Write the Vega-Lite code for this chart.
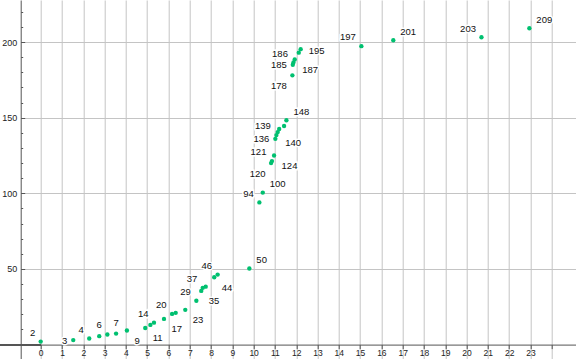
{
  "$schema": "https://vega.github.io/schema/vega-lite/v6.json",
  "width": 555.3,
  "height": 359,
  "autosize": {"type": "none"},
  "padding": {"left": 20.7, "top": 0, "right": 0, "bottom": 0},
  "background": "white",
  "config": {"view": {"stroke": null}, "font": "Liberation Sans"},
  "data": {"values": [
    {"x": 0.00, "y": 2, "label": "2"},
    {"x": 1.53, "y": 3, "label": "3"},
    {"x": 2.28, "y": 4, "label": "4"},
    {"x": 2.75, "y": 5.6, "label": "6"},
    {"x": 3.13, "y": 6.7},
    {"x": 3.54, "y": 7.3, "label": "7"},
    {"x": 4.05, "y": 9.3, "label": "9"},
    {"x": 4.91, "y": 11, "label": "11"},
    {"x": 5.15, "y": 13},
    {"x": 5.32, "y": 14.5, "label": "14"},
    {"x": 5.79, "y": 17, "label": "17"},
    {"x": 6.17, "y": 20.3, "label": "20"},
    {"x": 6.34, "y": 21},
    {"x": 6.79, "y": 23, "label": "23"},
    {"x": 7.31, "y": 29, "label": "29"},
    {"x": 7.54, "y": 35.5, "label": "35"},
    {"x": 7.61, "y": 37.5, "label": "37"},
    {"x": 7.75, "y": 38.3},
    {"x": 8.15, "y": 44.5, "label": "44"},
    {"x": 8.31, "y": 46.3, "label": "46"},
    {"x": 9.80, "y": 50.3, "label": "50"},
    {"x": 10.27, "y": 94, "label": "94"},
    {"x": 10.43, "y": 100.5, "label": "100"},
    {"x": 10.82, "y": 120, "label": "120"},
    {"x": 10.86, "y": 121.3, "label": "121"},
    {"x": 10.96, "y": 125, "label": "124"},
    {"x": 11.02, "y": 136, "label": "136"},
    {"x": 11.07, "y": 138.5, "label": "139"},
    {"x": 11.13, "y": 140.5, "label": "140"},
    {"x": 11.2, "y": 142.5},
    {"x": 11.43, "y": 144.5},
    {"x": 11.54, "y": 148.3, "label": "148"},
    {"x": 11.82, "y": 178, "label": "178"},
    {"x": 11.84, "y": 185, "label": "185"},
    {"x": 11.87, "y": 186.5, "label": "186"},
    {"x": 11.93, "y": 188.5, "label": "187"},
    {"x": 12.12, "y": 193},
    {"x": 12.21, "y": 195.3, "label": "195"},
    {"x": 15.06, "y": 197.3, "label": "197"},
    {"x": 16.56, "y": 201.2, "label": "201"},
    {"x": 20.70, "y": 203.2, "label": "203"},
    {"x": 22.95, "y": 209.1, "label": "209"}
  ]},
  "encoding": {
    "x": {
      "field": "x", "type": "quantitative",
      "scale": {"domain": [-0.939, 25.14], "nice": false, "zero": false},
      "axis": {
        "title": null, "orient": "bottom", "offset": -14.4,
        "values": [0,1,2,3,4,5,6,7,8,9,10,11,12,13,14,15,16,17,18,19,20,21,22,23,24],
        "labelExpr": "datum.value == 24 ? '' : datum.label",
        "domainColor": "#555555", "tickColor": "#555555", "tickSize": 4,
        "labelPadding": 0, "labelFontSize": 8.5, "labelColor": "#222222",
        "labelFlush": false, "labelOverlap": false,
        "gridColor": "#c4c4c4", "gridWidth": 1
      }
    },
    "y": {
      "field": "y", "type": "quantitative",
      "scale": {"domain": [-9.52, 227.8], "nice": false, "zero": false},
      "axis": {
        "title": null, "orient": "left",
        "values": [10,20,30,40,50,60,70,80,90,100,110,120,130,140,150,160,170,180,190,200,210,220],
        "labelExpr": "datum.value % 50 == 0 ? datum.label : ''",
        "tickSize": {"condition": {"test": "datum.value % 50 == 0", "value": -4}, "value": -2},
        "gridOpacity": {"condition": {"test": "datum.value % 50 == 0", "value": 1}, "value": 0},
        "domainColor": "#555555", "tickColor": "#555555",
        "labelPadding": 8, "labelFontSize": 9, "labelColor": "#222222",
        "labelOverlap": false,
        "gridColor": "#c4c4c4", "gridWidth": 1
      }
    }
  },
  "layer": [
    {
      "mark": {"type": "rule", "color": "#555555", "strokeWidth": 1},
      "encoding": {
        "x": {"datum": -1.92, "type": "quantitative"},
        "x2": {"datum": 0},
        "y": {"datum": 0, "type": "quantitative"}
      }
    },
    {"transform": [{"filter": {"field": "label", "oneOf": ["2","4","14","20","29","37","46","94","121","139","186","197","203"]}}],
     "mark": {"type": "text", "align": "right", "baseline": "middle", "dx": -5.5, "dy": -8.7, "fontSize": 9.5, "color": "white", "stroke": "white", "strokeWidth": 3},
     "encoding": {"text": {"field": "label"}}},
    {"transform": [{"filter": {"field": "label", "oneOf": ["50","100","148","201","209"]}}],
     "mark": {"type": "text", "align": "left", "baseline": "middle", "dx": 7, "dy": -8.7, "fontSize": 9.5, "color": "white", "stroke": "white", "strokeWidth": 3},
     "encoding": {"text": {"field": "label"}}},
    {"transform": [{"filter": {"field": "label", "oneOf": ["9","11","17","23","35","44","124","140","187"]}}],
     "mark": {"type": "text", "align": "left", "baseline": "middle", "dx": 7.5, "dy": 10.5, "fontSize": 9.5, "color": "white", "stroke": "white", "strokeWidth": 3},
     "encoding": {"text": {"field": "label"}}},
    {"transform": [{"filter": {"field": "label", "oneOf": ["120","178"]}}],
     "mark": {"type": "text", "align": "right", "baseline": "middle", "dx": -5.5, "dy": 10.5, "fontSize": 9.5, "color": "white", "stroke": "white", "strokeWidth": 3},
     "encoding": {"text": {"field": "label"}}},
    {"transform": [{"filter": {"field": "label", "oneOf": ["3","136","185"]}}],
     "mark": {"type": "text", "align": "right", "baseline": "middle", "dx": -6, "dy": 0.5, "fontSize": 9.5, "color": "white", "stroke": "white", "strokeWidth": 3},
     "encoding": {"text": {"field": "label"}}},
    {"transform": [{"filter": {"field": "label", "oneOf": ["195"]}}],
     "mark": {"type": "text", "align": "left", "baseline": "middle", "dx": 8, "dy": 1.5, "fontSize": 9.5, "color": "white", "stroke": "white", "strokeWidth": 3},
     "encoding": {"text": {"field": "label"}}},
    {"transform": [{"filter": {"field": "label", "oneOf": ["6","7"]}}],
     "mark": {"type": "text", "align": "center", "baseline": "middle", "dx": 0, "dy": -11, "fontSize": 9.5, "color": "white", "stroke": "white", "strokeWidth": 3},
     "encoding": {"text": {"field": "label"}}},
    {
      "mark": {"type": "circle", "color": "#00c070", "opacity": 1, "size": 19}
    },
    {"transform": [{"filter": {"field": "label", "oneOf": ["2","4","14","20","29","37","46","94","121","139","186","197","203"]}}],
     "mark": {"type": "text", "align": "right", "baseline": "middle", "dx": -5.5, "dy": -8.7, "fontSize": 9.5, "color": "#111111"},
     "encoding": {"text": {"field": "label"}}},
    {"transform": [{"filter": {"field": "label", "oneOf": ["50","100","148","201","209"]}}],
     "mark": {"type": "text", "align": "left", "baseline": "middle", "dx": 7, "dy": -8.7, "fontSize": 9.5, "color": "#111111"},
     "encoding": {"text": {"field": "label"}}},
    {"transform": [{"filter": {"field": "label", "oneOf": ["9","11","17","23","35","44","124","140","187"]}}],
     "mark": {"type": "text", "align": "left", "baseline": "middle", "dx": 7.5, "dy": 10.5, "fontSize": 9.5, "color": "#111111"},
     "encoding": {"text": {"field": "label"}}},
    {"transform": [{"filter": {"field": "label", "oneOf": ["120","178"]}}],
     "mark": {"type": "text", "align": "right", "baseline": "middle", "dx": -5.5, "dy": 10.5, "fontSize": 9.5, "color": "#111111"},
     "encoding": {"text": {"field": "label"}}},
    {"transform": [{"filter": {"field": "label", "oneOf": ["3","136","185"]}}],
     "mark": {"type": "text", "align": "right", "baseline": "middle", "dx": -6, "dy": 0.5, "fontSize": 9.5, "color": "#111111"},
     "encoding": {"text": {"field": "label"}}},
    {"transform": [{"filter": {"field": "label", "oneOf": ["195"]}}],
     "mark": {"type": "text", "align": "left", "baseline": "middle", "dx": 8, "dy": 1.5, "fontSize": 9.5, "color": "#111111"},
     "encoding": {"text": {"field": "label"}}},
    {"transform": [{"filter": {"field": "label", "oneOf": ["6","7"]}}],
     "mark": {"type": "text", "align": "center", "baseline": "middle", "dx": 0, "dy": -11, "fontSize": 9.5, "color": "#111111"},
     "encoding": {"text": {"field": "label"}}}
  ]
}
